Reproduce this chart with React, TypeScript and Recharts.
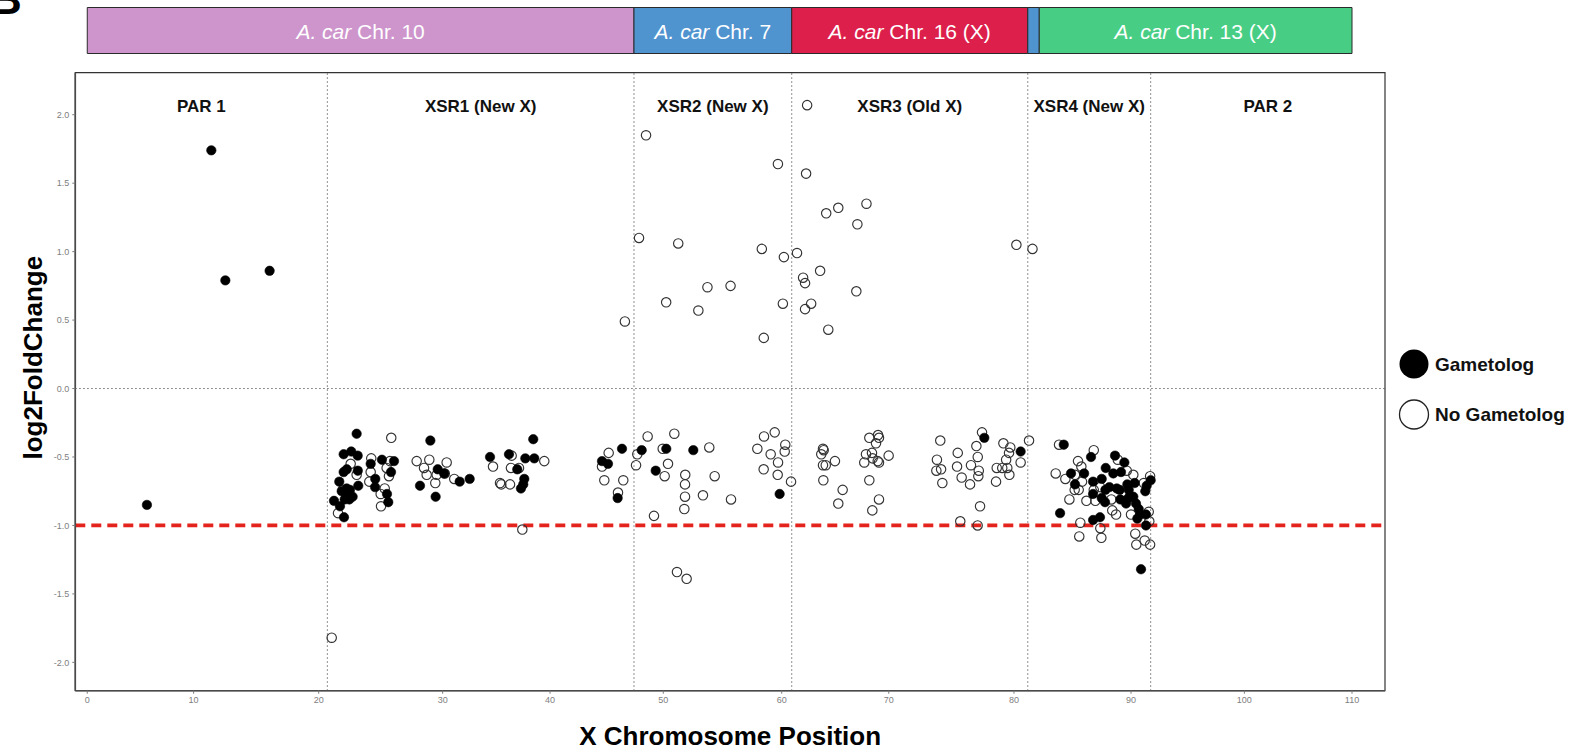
import React from 'react';
import {
  ScatterChart, Scatter, XAxis, YAxis, ReferenceLine, ReferenceArea, Legend,
  ComposedChart, Bar,
} from 'recharts';

// ---------- axis definitions (the reference x axis is non-uniform; ticks sit at their drawn places) ----------
const xTickLabels = [0, 10, 20, 30, 40, 50, 60, 70, 80, 90, 100, 110];
const xTickAt = [0, 9.25, 20.13, 30.91, 40.25, 50.1, 60.4, 69.71, 80.6, 90.78, 100.64, 110];
const yTicks = [-2, -1.5, -1, -0.5, 0, 0.5, 1, 1.5, 2];
const X_MIN = -1.04;
const X_MAX = 112.87;
const Y_MIN = -2.207;
const Y_MAX = 2.307;

// ---------- regions ----------
const regionNames = ['PAR 1', 'XSR1 (New X)', 'XSR2 (New X)', 'XSR3 (Old X)', 'XSR4 (New X)', 'PAR 2'];
const regionStarts = [X_MIN, 20.88, 47.55, 61.27, 81.8, 92.49];
const regionEnds = [20.88, 47.55, 61.27, 81.8, 92.49, X_MAX];
const dividers = [20.88, 47.55, 61.27, 81.8, 92.49];

// ---------- A. carolinensis chromosome bar ----------
const chrNames = ['Chr. 10', 'Chr. 7', 'Chr. 16 (X)', '', 'Chr. 13 (X)'];
const chrStarts = [0, 47.55, 61.27, 81.8, 82.8];
const chrEnds = [47.55, 61.27, 81.8, 82.8, 110];
const chrColors = ['#CD95CC', '#4F93CF', '#DC1F4B', '#4F93CF', '#47CE84'];

// ---------- points ----------
const gametologX = [
  5.19, 10.79, 12.01, 15.86,
  23.43, 22.3, 22.96, 23.52, 22.3, 22.57, 23.53, 21.92, 23.57, 22.56, 22.85, 22.13, 22.65, 23.08, 22.79, 21.46,
  22.39, 21.98, 22.33, 24.65, 25.63, 26.68, 26.42, 25.05, 25.03, 26.07, 26.18, 29.84, 30.48, 31.05, 28.94, 30.3,
  32.39, 33.26, 35.03, 36.68, 38.1, 38.79, 38.88, 37.4, 38.01, 37.92, 37.72,
  46.51, 44.77, 45.29, 46.13, 48.22, 50.36, 49.44, 52.71, 60.22, 78.02, 81.18,
  84.93, 84.61, 87.3, 85.56, 86.7, 85.91, 87.48, 88.58, 89.39, 90.2, 88.23, 89.24, 89.91, 88.55, 88.9, 89.54,
  89.8, 90.46, 91.1, 90.58, 87.48, 88.23, 88.52, 89.85, 90.55, 90.35, 90.98, 91.21, 91.45, 91.59, 91.33, 92.08,
  92.08, 92.02, 92.14, 92.49, 87.48, 88.08, 91.65,
];
const gametologY = [
  -0.85, 1.74, 0.79, 0.86,
  -0.33, -0.48, -0.46, -0.49, -0.61, -0.59, -0.6, -0.68, -0.71, -0.73, -0.74, -0.75, -0.77, -0.79, -0.81, -0.82,
  -0.81, -0.86, -0.94, -0.55, -0.52, -0.53, -0.61, -0.66, -0.72, -0.77, -0.83, -0.38, -0.59, -0.62, -0.71, -0.79,
  -0.68, -0.66, -0.5, -0.48, -0.51, -0.37, -0.51, -0.59, -0.66, -0.7, -0.73,
  -0.44, -0.53, -0.55, -0.8, -0.45, -0.44, -0.6, -0.45, -0.77, -0.36, -0.46,
  -0.41, -0.91, -0.5, -0.62, -0.62, -0.7, -0.68, -0.58, -0.49, -0.54, -0.66, -0.62, -0.61, -0.74, -0.72, -0.73,
  -0.74, -0.7, -0.69, -0.74, -0.77, -0.8, -0.83, -0.81, -0.8, -0.84, -0.79, -0.84, -0.88, -0.92, -0.95, -0.92,
  -1.0, -0.75, -0.71, -0.67, -0.96, -0.94, -1.32,
];

const noGametologX = [
  26.44, 22.91, 23.43, 24.7, 24.65, 24.53, 26.04, 26.24, 26.33, 25.87, 25.52, 25.55, 22.21, 21.81, 28.65, 29.75,
  31.26, 29.29, 29.52, 30.39, 31.09, 30.27, 31.92, 35.29, 36.91, 36.85, 37.55, 35.9, 36.01, 36.77, 39.75, 37.84, 21.26,
  45.35, 44.77, 44.97, 46.62, 46.16, 47.84, 47.73, 48.74, 50.05, 50.51, 50.22, 51.06, 52.01, 51.99, 51.99, 51.93,
  49.29, 53.55, 54.1, 54.57, 55.99, 51.29, 52.13, 58.86, 59.79, 58.28, 60.71, 60.66, 59.44, 60.08, 58.83, 60.05, 61.21,
  63.99, 64.05, 63.84, 63.99, 64.23, 65.03, 64.02, 65.7, 65.32, 68.02, 68.78, 68.86, 68.6, 67.73, 68.25, 68.31,
  67.58, 68.75, 68.86, 69.7, 68.02, 68.86, 68.28, 74.19, 75.71, 73.9, 73.85, 74.26, 75.65, 74.37, 76.05, 76.78,
  76.86, 77.45, 77.33, 77.82, 77.54, 77.5, 79.04, 79.1, 79.58, 80.02, 80.2, 79.92, 80.17, 79.68, 80.28, 81.18,
  81.91, 77.65, 75.93, 77.44,
  46.76, 47.99, 48.6, 51.4, 50.35, 53.15, 53.94, 55.95, 58.67, 58.84, 60.07, 60.59, 60.5, 61.73, 62.52, 62.26,
  62.43, 62.43, 62.96, 63.74, 64.27, 65.32, 64.45, 66.98, 67.77, 66.89, 62.61, 80.81, 82.21,
  84.52, 84.23, 85.07, 87.54, 86.17, 86.46, 85.91, 86.52, 85.88, 86.23, 85.42, 86.9, 87.68, 87.54, 88.11, 89.63,
  90.41, 90.98, 89.15, 89.48, 90.78, 91.89, 92.44, 92.32, 92.37, 86.37, 88.11, 86.28, 88.2, 91.15, 91.24, 91.97,
  92.44, 89.07,
];
const noGametologY = [
  -0.36, -0.55, -0.63, -0.51, -0.61, -0.68, -0.58, -0.64, -0.53, -0.73, -0.77, -0.86, -0.74, -0.91, -0.53, -0.52,
  -0.54, -0.58, -0.63, -0.63, -0.62, -0.69, -0.66, -0.57, -0.49, -0.58, -0.58, -0.69, -0.7, -0.7, -0.53, -1.03, -1.82,
  -0.47, -0.57, -0.67, -0.67, -0.76, -0.48, -0.56, -0.35, -0.44, -0.55, -0.64, -0.33, -0.63, -0.7, -0.79, -0.88,
  -0.93, -0.78, -0.43, -0.64, -0.81, -1.34, -1.39, -0.35, -0.32, -0.44, -0.41, -0.46, -0.48, -0.54, -0.59, -0.63, -0.68,
  -0.44, -0.45, -0.48, -0.56, -0.56, -0.53, -0.67, -0.74, -0.84, -0.36, -0.34, -0.36, -0.4, -0.48, -0.47, -0.51,
  -0.54, -0.53, -0.54, -0.49, -0.67, -0.81, -0.89, -0.38, -0.47, -0.52, -0.6, -0.59, -0.57, -0.69, -0.65, -0.7,
  -0.56, -0.5, -0.42, -0.32, -0.6, -0.64, -0.68, -0.58, -0.58, -0.58, -0.63, -0.52, -0.47, -0.4, -0.43, -0.54,
  -0.38, -0.86, -0.97, -1.0,
  0.49, 1.1, 1.85, 1.06, 0.63, 0.57, 0.74, 0.75, 1.02, 0.37, 1.64, 0.96, 0.62, 0.99, 1.57, 0.81,
  0.77, 0.58, 0.62, 0.86, 1.28, 1.32, 0.43, 1.2, 1.35, 0.71, 2.07, 1.05, 1.02,
  -0.41, -0.62, -0.66, -0.45, -0.53, -0.57, -0.63, -0.68, -0.74, -0.74, -0.81, -0.82, -0.82, -0.74, -0.72, -0.52,
  -0.6, -0.63, -0.89, -0.92, -0.92, -0.69, -0.64, -0.9, -0.97, -0.98, -1.02, -1.08, -1.09, -1.06, -1.14, -1.11,
  -1.14, -0.81,
];

const gametologData = gametologX.map((x, i) => ({ x, y: gametologY[i] }));
const noGametologData = noGametologX.map((x, i) => ({ x, y: noGametologY[i] }));

const chrRow: Record<string, string | number> = { row: 'A. car' };
chrStarts.forEach((s, i) => { chrRow['s' + i] = +(chrEnds[i] - s).toFixed(3); });
const chrData = [chrRow];

const FONT = '"Liberation Sans", Arial, Helvetica, sans-serif';
const POINT_R = 4.7;

const FilledDot = (props: any) => {
  const { cx, cy } = props;
  if (cx == null || cy == null) return null;
  return <circle cx={cx} cy={cy} r={POINT_R} fill="#000" stroke="#000" strokeWidth={0.6} />;
};
const OpenDot = (props: any) => {
  const { cx, cy } = props;
  if (cx == null || cy == null) return null;
  return <circle cx={cx} cy={cy} r={POINT_R} fill="none" stroke="#333" strokeWidth={1.15} />;
};

const makeChrLabel = (i: number) => (props: any) => {
  const { x, y, width, height } = props;
  if (!chrNames[i]) return null;
  return (
    <text
      x={x + width / 2}
      y={y + height / 2}
      textAnchor="middle"
      dominantBaseline="central"
      fill="#fff"
      fontSize={21}
      fontFamily={FONT}
    >
      <tspan fontStyle="italic">A. car</tspan>
      <tspan> {chrNames[i]}</tspan>
    </text>
  );
};

const renderLegend = () => (
  <svg width={185} height={100} style={{ display: 'block' }}>
    <circle cx={20} cy={20} r={14.5} fill="#000" />
    <text x={41} y={20} dominantBaseline="central" fontSize={19} fontWeight="bold" fontFamily={FONT} fill="#111">
      Gametolog
    </text>
    <circle cx={20} cy={70.5} r={14.5} fill="#fff" stroke="#222" strokeWidth={1.3} />
    <text x={41} y={70.5} dominantBaseline="central" fontSize={19} fontWeight="bold" fontFamily={FONT} fill="#111">
      No Gametolog
    </text>
  </svg>
);

const tickStyle = { fontSize: 9, fill: '#808080', fontFamily: FONT };

export default function App() {
  return (
    <div style={{ position: 'absolute', left: 0, top: 0, width: 1578, height: 752, background: '#fff', overflow: 'hidden', fontFamily: FONT }}>
      <div style={{ position: 'absolute', left: -10, top: -26, fontSize: 44, lineHeight: '50px', fontWeight: 'bold', fontFamily: FONT, color: '#000' }}>B</div>

      {/* chromosome bar */}
      <div style={{ position: 'absolute', left: 0, top: 0 }}>
        <ComposedChart
          width={1578}
          height={60}
          layout="vertical"
          data={chrData}
          margin={{ top: 7.5, right: 193, bottom: 6.5, left: 75.3 }}
          barCategoryGap={0}
        >
          <XAxis type="number" domain={[X_MIN, X_MAX]} allowDataOverflow hide />
          <YAxis type="category" dataKey="row" hide />
          {chrStarts.map((_, i) => (
            <Bar
              key={i}
              dataKey={'s' + i}
              stackId="chr"
              fill={chrColors[i]}
              stroke="#2a2a2a"
              strokeWidth={1}
              isAnimationActive={false}
              label={makeChrLabel(i)}
            />
          ))}
        </ComposedChart>
      </div>

      {/* main scatter */}
      <div style={{ position: 'absolute', left: 0, top: 0 }}>
        <ScatterChart width={1578} height={752} margin={{ top: 72.7, right: 193, bottom: 0, left: 0 }}>
          <XAxis
            type="number"
            dataKey="x"
            domain={[X_MIN, X_MAX]}
            allowDataOverflow
            ticks={xTickAt}
            interval={0}
            tickFormatter={(v: number) => {
              const i = xTickAt.indexOf(v);
              return i >= 0 ? String(xTickLabels[i]) : '';
            }}
            height={61.3}
            tickSize={3}
            tickMargin={3}
            tick={tickStyle}
            tickLine={{ stroke: '#7a7a7a' }}
            axisLine={{ stroke: '#4a4a4a', strokeWidth: 1.6 }}
            label={{
              value: 'X Chromosome Position',
              position: 'insideBottom',
              offset: 7,
              style: { fontSize: 26, fontWeight: 'bold', fill: '#000', fontFamily: FONT },
            }}
          />
          <YAxis
            type="number"
            dataKey="y"
            domain={[Y_MIN, Y_MAX]}
            allowDataOverflow
            ticks={yTicks}
            interval={0}
            tickFormatter={(v: number) => v.toFixed(1)}
            width={75.3}
            tickSize={3}
            tickMargin={3}
            tick={tickStyle}
            tickLine={{ stroke: '#7a7a7a' }}
            axisLine={{ stroke: '#4a4a4a', strokeWidth: 1.6 }}
            label={{
              value: 'log2FoldChange',
              angle: -90,
              position: 'center',
              dx: -5,
              dy: -24,
              style: { fontSize: 26, fontWeight: 'bold', fill: '#000', fontFamily: FONT, textAnchor: 'middle' },
            }}
          />
          <ReferenceArea x1={X_MIN} x2={X_MAX} y1={Y_MIN} y2={Y_MAX} fill="none" stroke="#333" strokeWidth={1.2} ifOverflow="visible" />
          {regionNames.map((name, i) => (
            <ReferenceArea
              key={name}
              x1={regionStarts[i]}
              x2={regionEnds[i]}
              y1={Y_MIN}
              y2={Y_MAX}
              fill="none"
              stroke="none"
              ifOverflow="visible"
              label={{
                value: name,
                position: 'insideTop',
                offset: 27,
                style: { fontSize: 17, fontWeight: 'bold', fill: '#111', fontFamily: FONT },
              }}
            />
          ))}
          {dividers.map((d) => (
            <ReferenceLine key={d} x={d} stroke="#555" strokeWidth={1} strokeDasharray="1.3 2.7" />
          ))}
          <ReferenceLine y={0} stroke="#555" strokeWidth={1} strokeDasharray="1.3 2.7" />
          <Scatter data={noGametologData} shape={OpenDot} isAnimationActive={false} />
          <Scatter data={gametologData} shape={FilledDot} isAnimationActive={false} />
          <ReferenceLine y={-1} stroke="#E3231C" strokeWidth={3.8} strokeDasharray="10 6" />
          <Legend
            layout="horizontal"
            verticalAlign="middle"
            align="center"
            content={renderLegend}
            wrapperStyle={{ left: 1394, top: 343.5, width: 185, height: 100 }}
          />
        </ScatterChart>
      </div>
    </div>
  );
}
